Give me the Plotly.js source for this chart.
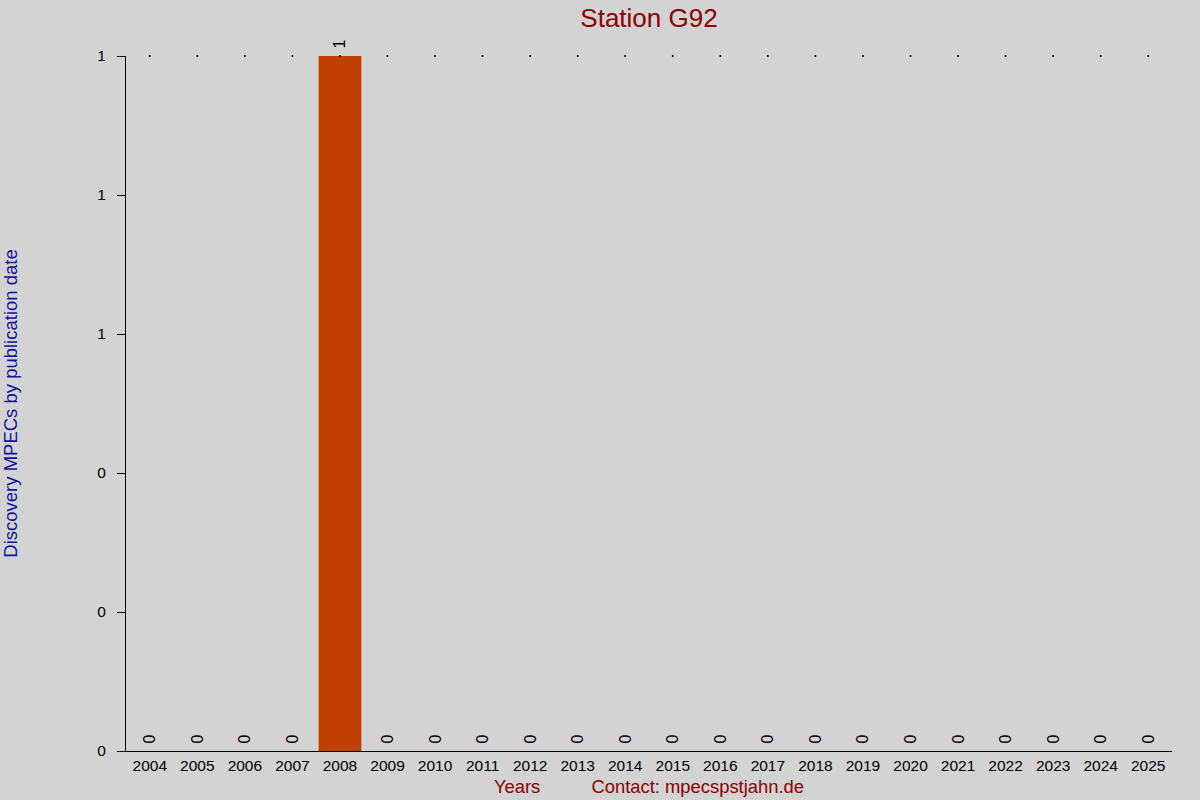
<!DOCTYPE html>
<html>
<head>
<meta charset="utf-8">
<script src="https://cdn.plot.ly/plotly-3.0.1.min.js"></script>
<style>
  html, body { margin: 0; padding: 0; background: #d3d3d3; }
  #plot { width: 1200px; height: 800px; }
</style>
</head>
<body>
<div id="plot"></div>
<script>
const years = ['2004', '2005', '2006', '2007', '2008', '2009', '2010', '2011', '2012', '2013', '2014',
  '2015', '2016', '2017', '2018', '2019', '2020', '2021', '2022', '2023', '2024', '2025']
const counts = [0, 0, 0, 0, 1, 0, 0, 0, 0, 0, 0, 0, 0, 0, 0, 0, 0, 0, 0, 0, 0, 0]

// little dots along the top of the axis
const maxCount = Math.max(...counts)
const dots = years.map(() => maxCount)

const font = 'Liberation Sans, Arial, sans-serif'

const traces = [
  {
    type: 'bar',
    x: years,
    y: counts,
    marker: { color: '#c04000' },
    // leading space lifts the rotated label off the bar a bit
    text: counts.map(v => ' ' + v),
    textposition: 'outside',
    textangle: -90,
    constraintext: 'none',
    textfont: { family: font, size: 16, color: '#000' },
    cliponaxis: false,
    hoverinfo: 'x+y'
  },
  {
    type: 'scatter',
    mode: 'markers',
    x: years,
    y: dots,
    marker: { color: '#000', size: 2 },
    cliponaxis: false,
    hoverinfo: 'skip'
  }
]

const layout = {
  width: 1200,
  height: 800,
  paper_bgcolor: '#d3d3d3',
  plot_bgcolor: '#d3d3d3',
  showlegend: false,
  bargap: 0.1,
  margin: { l: 126, r: 28, t: 56, b: 49 },
  font: { family: font, size: 15, color: '#000' },
  title: {
    text: 'Station G92',
    x: 0.5,
    xref: 'paper',
    y: 0.978,
    yanchor: 'middle',
    font: { family: font, size: 26, color: '#8b0000' }
  },
  xaxis: {
    type: 'category',
    range: [-0.5, years.length - 0.5],
    showline: true,
    linecolor: '#000',
    linewidth: 1,
    ticks: '',
    showgrid: false,
    zeroline: false,
    tickfont: { family: font, size: 15.5, color: '#000' },
    title: {
      text: 'Years          Contact: mpecspstjahn.de',
      font: { family: font, size: 18.4, color: '#8b0000' },
      standoff: 7
    }
  },
  yaxis: {
    range: [0, 1],
    tickvals: [0, 0.2, 0.4, 0.6, 0.8, 1],
    tickformat: '.0f',
    showline: true,
    linecolor: '#000',
    linewidth: 1,
    ticks: 'outside',
    ticklen: 8,
    tickcolor: '#000',
    ticklabelstandoff: 8,
    showgrid: false,
    zeroline: false,
    tickfont: { family: font, size: 15.5, color: '#000' },
    title: {
      text: 'Discovery MPECs by publication date',
      font: { family: font, size: 18.5, color: '#12129e' },
      standoff: 78
    }
  }
}

Plotly.newPlot('plot', traces, layout, { displayModeBar: false, staticPlot: true })
</script>
</body>
</html>
